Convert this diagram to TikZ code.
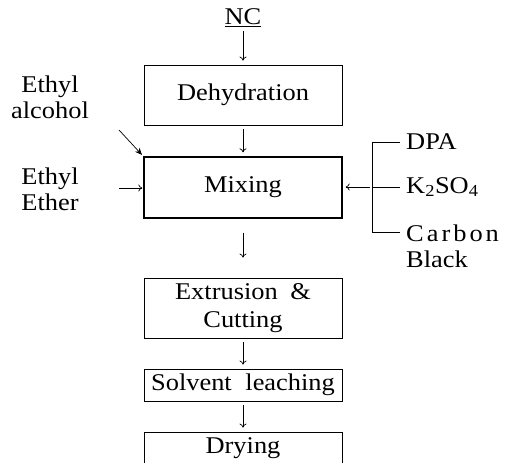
\documentclass[tikz,border=0pt]{standalone}
\usepackage{fontspec}
\setmainfont{Liberation Serif}[FakeStretch=1.1]
\usetikzlibrary{arrows.meta}
\begin{document}
\begin{tikzpicture}[x=1pt,y=-1pt,
  txt/.style={font=\fontsize{24}{26}\selectfont, inner sep=0pt},
  boxn/.style={txt, draw, line width=0.8pt, minimum width=198pt, align=center},
  arr/.style={-{To[length=4pt,width=7pt]}, line width=0.7pt},
  bigarr/.style={-{Stealth[length=7pt,width=6pt]}, line width=0.7pt},
  brk/.style={line width=0.7pt}]
\clip (0,0) rectangle (510,462);
\fill[white] (0,0) rectangle (510,462);
% main column
\node[txt, inner sep=2pt] (nc) at (243,18) {\underline{NC}};
\node[boxn, minimum height=60pt] (dehyd) at (243,95) {Dehydration};
\node[boxn, minimum height=61pt, line width=1.3pt] (mix) at (243,187.5) {Mixing};
\node[boxn, minimum height=60pt, font=\fontsize{24}{28}\selectfont] (extr) at (243,308) {Extrusion\hspace{6pt} \&\\Cutting};
\node[boxn, minimum height=32pt] (solv) at (243,385) {Solvent\hspace{7pt} leaching};
\node[boxn, minimum height=33pt] (dry) at (243,448.5) {Drying};
\draw[arr, shorten <=2pt, shorten >=4pt] (nc.south) -- (dehyd.north);
\draw[arr, shorten <=4pt, shorten >=4pt] (dehyd.south) -- (mix.north);
\draw[arr, shorten <=14pt, shorten >=20pt] (mix.south) -- (extr.north);
\draw[arr, shorten <=4pt, shorten >=4pt] (extr.south) -- (solv.north);
\draw[arr, shorten <=4pt, shorten >=4pt] (solv.south) -- (dry.north);
% left inputs
\node[txt, align=center] (alc) at (50,97) {Ethyl\\alcohol};
\node[txt, align=center] (eth) at (50,189.5) {Ethyl\\Ether};
\coordinate (alcin) at (119,130);
\coordinate (ethin) at (119,188);
\draw[bigarr, shorten >=2pt] (alcin) -- (mix.north west);
\draw[arr, shorten >=1pt] (ethin) -- (ethin -| mix.west);
% right inputs
\node[txt, anchor=west] (dpa) at (406,142) {DPA};
\node[txt, anchor=west] (kso) at (406,187) {K\textsubscript{2}SO\textsubscript{4}};
\node[txt, anchor=west, align=left] (cb) at (406,246) {C\kern3pt a\kern3pt r\kern3pt b\kern3pt o\kern3pt n\\Black};
\coordinate (brtop) at (372,142);
\coordinate (brmid) at (372,187);
\coordinate (brbot) at (372,232);
\draw[brk] ([xshift=-6pt]dpa.west) -- (brtop) -- (brbot) -- (400,232);
\draw[brk] (brmid) -- ([xshift=-6pt]kso.west |- brmid);
\draw[arr, shorten <=2pt, shorten >=3pt] (brmid) -- (brmid -| mix.east);
\end{tikzpicture}
\end{document}
